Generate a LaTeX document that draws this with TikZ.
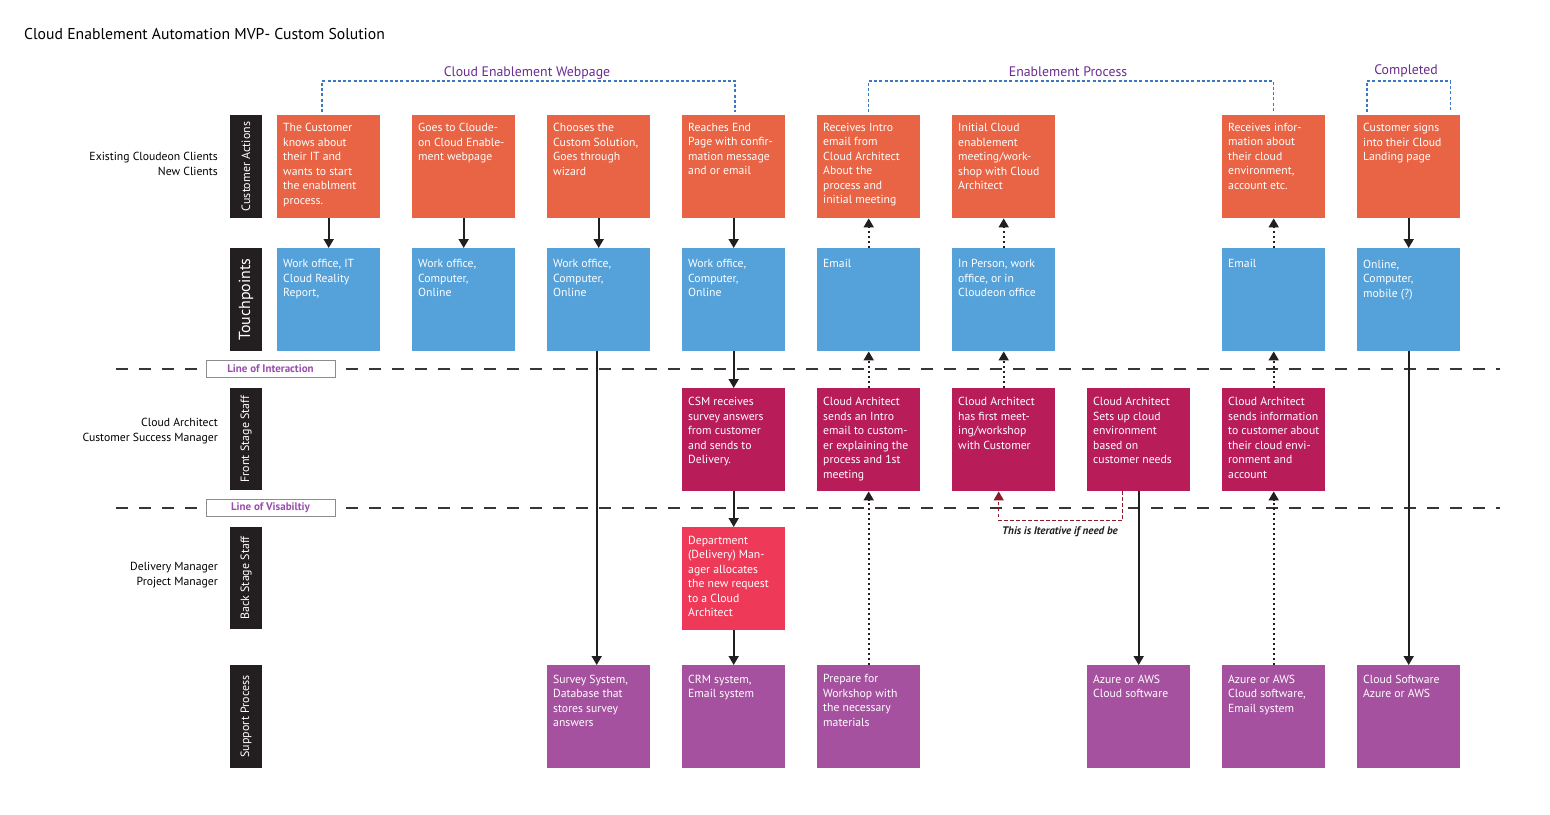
\documentclass[tikz,border=0pt]{standalone}
\usepackage{fontspec}
\setmainfont{PT Sans}
\usetikzlibrary{arrows.meta,calc}
\definecolor{caC}{HTML}{E86445}
\definecolor{tpC}{HTML}{55A1D9}
\definecolor{fsC}{HTML}{B81D5A}
\definecolor{bsC}{HTML}{EE3A58}
\definecolor{spC}{HTML}{A6519F}
\definecolor{barC}{HTML}{231F20}
\definecolor{grpC}{HTML}{6B2C91}
\definecolor{llC}{HTML}{9B4DAF}
\definecolor{dashC}{HTML}{3A78C4}
\definecolor{iterC}{HTML}{8B1A2B}
\tikzset{
  cell/.style={minimum width=103pt, minimum height=103pt, inner sep=0pt, draw=none, anchor=north west},
  txt/.style={anchor=north west, inner sep=0pt, align=left, text=white, font=\fontsize{11.7}{14.5}\selectfont},
  bar/.style={fill=barC, text=white, rotate=90, minimum height=32pt, inner sep=0pt, font=\fontsize{12}{14}\selectfont},
  lbl/.style={anchor=east, align=right, inner sep=0pt, font=\fontsize{11.7}{15}\selectfont},
  flow/.style={draw=barC, line width=1.8pt, -{Triangle[width=10pt,length=9pt]}},
  dots/.style={draw=barC, line width=1.8pt, dash pattern=on 2.5pt off 2.5pt, -{Triangle[width=10pt,length=9pt]}},
  sep/.style={draw=barC!90, line width=1.8pt, dash pattern=on 12pt off 11pt},
  linelab/.style={draw=black!45, fill=white, line width=1pt, minimum width=129pt, minimum height=17pt, inner sep=0pt, text=llC, font=\bfseries\fontsize{11}{12}\selectfont},
  grp/.style={draw=dashC, line width=1.5pt, dash pattern=on 3pt off 2.2pt},
  grplab/.style={anchor=base, text=grpC, inner sep=0pt, font=\fontsize{13.8}{15}\selectfont},
  iter/.style={draw=iterC, line width=1.5pt, dash pattern=on 3.5pt off 2.5pt, -{Triangle[width=10pt,length=9pt]}},
}
\newcommand\mkcell[6]{%
  \node[cell,fill=#4] (#1) at (#2,#3) {};
  \node[txt] (#1t) at ([shift={(6,#6)}]#1.north west) {#5};
}
\begin{document}
\begin{tikzpicture}[x=1pt,y=-1pt]
\useasboundingbox (0,0) rectangle (1550,814);
\fill[white] (0,0) rectangle (1550,814);

% title
\node[anchor=base west, inner sep=0pt, font=\fontsize{15.7}{18}\selectfont] (title) at (24,39.5) {Cloud Enablement Automation MVP- Custom Solution};

% separator lines
\draw[sep] (116,369) -- (1500,369);
\draw[sep] (116,508) -- (1500,508);
\node[linelab] (loi) at (270.5,368.5) {Line of Interaction};
\node[linelab] (lov) at (270.5,507.5) {Line of Visabiltiy};

% row bars
\node[bar, minimum width=103pt] (rca) at (246,166.5) {Customer Actions};
\node[bar, minimum width=103pt, font=\fontsize{16}{18}\selectfont] (rtp) at (246,299.5) {Touchpoints};
\node[bar, minimum width=102pt] (rfs) at (246,439) {Front Stage Staff};
\node[bar, minimum width=102pt] (rbs) at (246,578) {Back Stage Staff};
\node[bar, minimum width=103pt] (rsp) at (246,716.5) {Support Process};

% left labels
\node[lbl] (l1) at (218,164) {Existing Cloudeon Clients\\New Clients};
\node[lbl] (l2) at (218,431) {Cloud Architect\\Customer Success Manager};
\node[lbl] (l3) at (218,575) {Delivery Manager\\Project Manager};

% customer actions
\mkcell{a1}{277}{115}{caC}{The Customer\\knows about\\their IT and\\wants to start\\the enablment\\process.}{8}
\mkcell{a2}{412}{115}{caC}{Goes to Cloude-\\on Cloud Enable-\\ment webpage}{8}
\mkcell{a3}{547}{115}{caC}{Chooses the\\Custom Solution,\\Goes through\\wizard}{8}
\mkcell{a4}{682}{115}{caC}{Reaches End\\Page with confir-\\mation message\\and or email}{8}
\mkcell{a5}{817}{115}{caC}{Receives Intro\\email from\\Cloud Architect\\About the\\process and\\initial meeting}{8}
\mkcell{a6}{952}{115}{caC}{Initial Cloud\\enablement\\meeting/work-\\shop with Cloud\\Architect}{8}
\mkcell{a8}{1222}{115}{caC}{Receives infor-\\mation about\\their cloud\\environment,\\account etc.}{8}
\mkcell{a9}{1357}{115}{caC}{Customer signs\\into their Cloud\\Landing page}{8}

% touchpoints
\mkcell{t1}{277}{248}{tpC}{Work office, IT\\Cloud Reality\\Report,}{11.5}
\mkcell{t2}{412}{248}{tpC}{Work office,\\Computer,\\Online}{11.5}
\mkcell{t3}{547}{248}{tpC}{Work office,\\Computer,\\Online}{11.5}
\mkcell{t4}{682}{248}{tpC}{Work office,\\Computer,\\Online}{11.5}
\mkcell{t5}{817}{248}{tpC}{Email}{11.5}
\mkcell{t6}{952}{248}{tpC}{In Person, work\\office, or in\\Cloudeon office}{11.5}
\mkcell{t8}{1222}{248}{tpC}{Email}{11.5}
\mkcell{t9}{1357}{248}{tpC}{Online,\\Computer,\\mobile (?)}{11.5}

% front stage
\mkcell{f4}{682}{388}{fsC}{CSM receives\\survey answers\\from customer\\and sends to\\Delivery.}{9}
\mkcell{f5}{817}{388}{fsC}{Cloud Architect\\sends an Intro\\email to custom-\\er explaining the\\process and 1st\\meeting}{9}
\mkcell{f6}{952}{388}{fsC}{Cloud Architect\\has first meet-\\ing/workshop\\with Customer}{9}
\mkcell{f7}{1087}{388}{fsC}{Cloud Architect\\Sets up cloud\\environment\\based on\\customer needs}{9}
\mkcell{f8}{1222}{388}{fsC}{Cloud Architect\\sends information\\to customer about\\their cloud envi-\\ronment and\\account}{9}

% back stage
\mkcell{b4}{682}{527}{bsC}{Department\\(Delivery) Man-\\ager allocates\\the new request\\to a Cloud\\Architect}{9}

% support
\mkcell{s3}{547}{665}{spC}{Survey System,\\Database that\\stores survey\\answers}{9.5}
\mkcell{s4}{682}{665}{spC}{CRM system,\\Email system}{9.5}
\mkcell{s5}{817}{665}{spC}{Prepare for\\Workshop with\\the necessary\\materials}{9.5}
\mkcell{s7}{1087}{665}{spC}{Azure or AWS\\Cloud software}{9.5}
\mkcell{s8}{1222}{665}{spC}{Azure or AWS\\Cloud software,\\Email system}{9.5}
\mkcell{s9}{1357}{665}{spC}{Cloud Software\\Azure or AWS}{9.5}

% group brackets
\draw[grp] ([xshift=-6.5pt,yshift=3pt]a1.north) -- ++(0,-31) -| ([xshift=1.5pt,yshift=3pt]a4.north);
\draw[grp] ([yshift=3pt]a5.north) -- ++(0,-31) -| ([yshift=3pt]a8.north);
\draw[grp] ([xshift=10pt,yshift=3pt]a9.north west) -- ++(0,-31) -| ([xshift=-10pt,yshift=3pt]a9.north east);
\node[grplab] (g1) at (527,76) {Cloud Enablement Webpage};
\node[grplab] (g2) at (1068,76) {Enablement Process};
\node[grplab] (g3) at (1406,74) {Completed};

% connectors
\draw[flow] (a1) -- (t1);
\draw[flow] (a2) -- (t2);
\draw[flow] (a3) -- (t3);
\draw[flow] (a4) -- (t4);
\draw[flow] (a9) -- (t9);
\draw[dots] (t5) -- (a5);
\draw[dots] (t6) -- (a6);
\draw[dots] (t8) -- (a8);
\draw[flow] ([xshift=-2pt]t3.south) -- ([xshift=-2pt]s3.north);
\draw[flow] (t4) -- (f4);
\draw[flow] (f4) -- (b4);
\draw[flow] (b4) -- (s4);
\draw[dots] (f5) -- (t5);
\draw[dots] (f6) -- (t6);
\draw[dots] (f8) -- (t8);
\draw[dots] (s5) -- (f5);
\draw[dots] (s8) -- (f8);
\draw[flow] (f7) -- (s7);
\draw[flow] (t9) -- (s9);
\draw[iter] ([xshift=-16pt]f7.south) -- ++(0,29) -| ([xshift=-5pt]f6.south);
\node[anchor=base, inner sep=0pt, font=\bfseries\itshape\fontsize{11}{12}\selectfont, text=barC] (itl) at (1060,534.5) {This is Iterative if need be};
\end{tikzpicture}
\end{document}
